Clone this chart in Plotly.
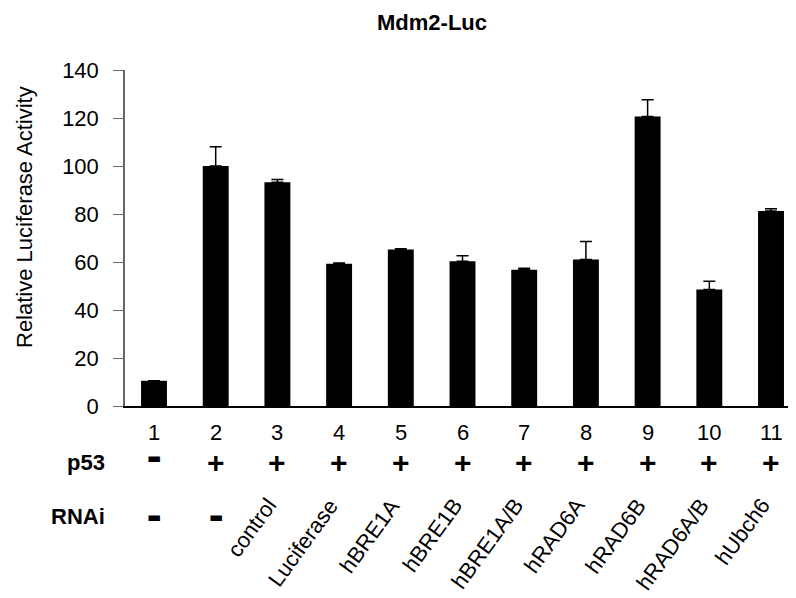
import plotly.graph_objects as go

lanes = ["1", "2", "3", "4", "5", "6", "7", "8", "9", "10", "11"]
activity = [10.5, 100.0, 93.2, 59.3, 65.2, 60.3, 56.8, 61.0, 120.6, 48.5, 81.2]
err_up = [0.0, 8.0, 1.2, 0.3, 0.3, 2.3, 0.6, 7.5, 7.0, 3.5, 1.0]
p53_row = ["-", "+", "+", "+", "+", "+", "+", "+", "+", "+", "+"]
rnai_row = ["-", "-", "control", "Luciferase", "hBRE1A", "hBRE1B", "hBRE1A/B",
            "hRAD6A", "hRAD6B", "hRAD6A/B", "hUbch6"]

FONT = "Arial, Liberation Sans, sans-serif"
xpos = list(range(len(lanes)))

fig = go.Figure()
fig.add_trace(go.Bar(
    x=xpos, y=activity, width=0.42,
    marker=dict(color="black", line=dict(width=0)),
    error_y=dict(type="data", array=err_up, arrayminus=[0] * len(err_up),
                 symmetric=False, color="black", thickness=1.5, width=6),
    showlegend=False,
))

# plot area on screen: top 70px, bottom 406px -> height 336
def py(pix):
    return (406 - pix) / 336.0

def minus(i, ypix):
    # heavy short dash, drawn as a text glyph
    return dict(text="\u25ac", xref="x", yref="paper", x=i, y=py(ypix),
                xanchor="center", yanchor="middle", showarrow=False,
                font=dict(family="DejaVu Sans", size=15, color="black"))

ann = []
ann.append(dict(text="<b>Mdm2-Luc</b>", xref="paper", yref="paper",
                x=(432 - 125) / 671.0, y=py(22), xanchor="center", yanchor="middle",
                showarrow=False, font=dict(family=FONT, size=22, color="black")))
ann.append(dict(text="Relative Luciferase Activity", xref="paper", yref="paper",
                x=0, xshift=-101, y=py(217), textangle=-90,
                xanchor="center", yanchor="middle", showarrow=False,
                font=dict(family=FONT, size=22, color="black")))
ann.append(dict(text="<b>p53</b>", xref="paper", yref="paper", x=0, xshift=-18,
                y=py(462), xanchor="right", yanchor="middle", showarrow=False,
                font=dict(family=FONT, size=22, color="black")))
ann.append(dict(text="<b>RNAi</b>", xref="paper", yref="paper", x=0, xshift=-18,
                y=py(516), xanchor="right", yanchor="middle", showarrow=False,
                font=dict(family=FONT, size=22, color="black")))
for i, lab in enumerate(lanes):
    ann.append(dict(text=lab, xref="x", yref="paper", x=i, y=py(432),
                    xanchor="center", yanchor="middle", showarrow=False,
                    font=dict(family=FONT, size=22, color="black")))
for i, s in enumerate(p53_row):
    if s == "-":
        ann.append(minus(i, 458))
    else:
        ann.append(dict(text="<b>+</b>", xref="x", yref="paper", x=i, y=py(462),
                        xanchor="center", yanchor="middle", showarrow=False,
                        font=dict(family=FONT, size=30, color="black")))
for i, s in enumerate(rnai_row):
    if s == "-":
        ann.append(minus(i, 517))
    else:
        ann.append(dict(text=s, xref="x", yref="paper", x=i, xshift=7, y=py(491),
                        xanchor="right", yanchor="top", textangle=-54, showarrow=False,
                        font=dict(family=FONT, size=22, color="black")))

# the page body adds an 8px offset; margins compensate so the plot area sits at
# x 125..796 and y 70..406 on screen
fig.update_layout(
    width=796, height=598,
    margin=dict(l=117, r=8, t=62, b=200),
    paper_bgcolor="white", plot_bgcolor="white",
    xaxis=dict(range=[-0.47, 10.405], showline=True, linecolor="black", linewidth=1.5,
               showticklabels=False, ticks="", showgrid=False, zeroline=False, fixedrange=True),
    yaxis=dict(range=[0, 140], dtick=20, showline=True, linecolor="#666", linewidth=1.5,
               ticks="outside", ticklen=10, tickcolor="#666", tickwidth=1.2,
               ticklabelstandoff=10,
               tickfont=dict(family=FONT, size=22, color="black"),
               showgrid=False, zeroline=False, fixedrange=True),
    annotations=ann,
    font=dict(family=FONT),
)

fig.write_html("out.html")
